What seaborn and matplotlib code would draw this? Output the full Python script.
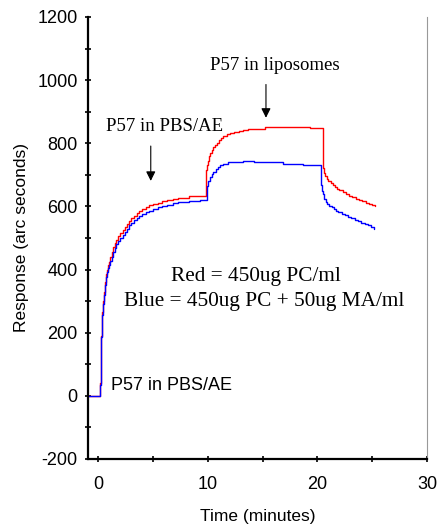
import numpy as np
import matplotlib
matplotlib.use("Agg")
import matplotlib.pyplot as plt
import seaborn as sns
from matplotlib.ticker import MultipleLocator

# time (minutes) / response (arc seconds)
red_t = [-0.95, 0.1, 0.2, 0.3, 0.4, 0.5, 0.6, 0.7, 0.8, 0.9, 1.0, 1.1, 1.2,
         1.35, 1.5, 1.65, 1.8, 2.0, 2.2, 2.4, 2.6, 2.8, 3.0, 3.25, 3.5, 3.75,
         4.0, 4.3, 4.6, 5.0, 5.4, 5.8, 6.3, 6.8, 7.3, 8.3, 9.8, 9.9, 10.0,
         10.1, 10.2, 10.35, 10.5, 10.65, 10.8, 11.0, 11.2, 11.4, 11.7, 12.0,
         12.4, 12.8, 13.2, 13.7, 14.1, 15.2, 19.3, 20.5, 20.6, 20.7, 20.85,
         21.0, 21.2, 21.4, 21.6, 21.8, 22.0, 22.3, 22.6, 22.9, 23.2, 23.5,
         23.8, 24.1, 24.4, 24.7, 25.0, 25.3]
red_y = [0, 40, 190, 265, 300, 330, 360, 385, 400, 415, 425, 440, 455,
         470, 485, 495, 505, 515, 525, 535, 545, 555, 562, 570, 578, 585,
         592, 598, 603, 608, 612, 616, 620, 624, 628, 634, 715, 730, 745,
         760, 770, 780, 788, 795, 802, 810, 816, 822, 828, 832,
         836, 839, 841, 844, 846, 853, 849, 722, 705, 695, 686,
         680, 673, 667, 661, 656, 651, 645, 639, 634, 629, 624,
         620, 616, 612, 608, 604, 600]

blue_t = [-0.95, 0.1, 0.2, 0.3, 0.4, 0.5, 0.6, 0.7, 0.8, 0.9, 1.0, 1.1, 1.2,
          1.35, 1.5, 1.65, 1.8, 2.0, 2.2, 2.4, 2.6, 2.8, 3.0, 3.25, 3.5, 3.75,
          4.0, 4.3, 4.6, 5.0, 5.4, 5.8, 6.3, 6.8, 7.3, 8.3, 9.3, 9.95, 10.05,
          10.2, 10.35, 10.5, 10.7, 10.9, 11.1, 11.4, 11.8, 12.5, 13.2, 14.2,
          16.9, 18.7, 20.3, 20.4, 20.5, 20.6, 20.75, 20.9, 21.1, 21.3, 21.5,
          21.7, 21.9, 22.2, 22.5, 22.8, 23.1, 23.4, 23.7, 24.0, 24.3, 24.6,
          24.9, 25.2]
blue_y = [0, 35, 185, 255, 290, 320, 350, 375, 392, 405, 415, 428, 440,
          455, 468, 480, 490, 500, 510, 520, 530, 540, 548, 556, 563, 570,
          576, 582, 587, 592, 597, 601, 606, 610, 613, 617, 620, 665, 680,
          692, 702, 710, 718, 725, 730, 735, 740, 742, 745, 740,
          735, 730, 668, 650, 638, 625, 615, 608, 602, 597, 592,
          587, 582, 577, 572, 567, 562, 557, 553, 549, 545, 540,
          534, 528]

sns.set_style("white")
plt.rcParams['font.family'] = ['Liberation Sans', 'DejaVu Sans']
plt.rcParams['axes.unicode_minus'] = False
plt.rcParams['text.color'] = 'black'
plt.rcParams['axes.labelcolor'] = 'black'
plt.rcParams['xtick.color'] = 'black'
plt.rcParams['ytick.color'] = 'black'

fig = plt.figure(figsize=(4.37, 5.26), dpi=100)
ax = fig.add_axes([0.2014, 0.1274, 0.7756, 0.8403])

sns.lineplot(x=red_t, y=red_y, ax=ax, color='#ff0000', lw=1.0,
             drawstyle='steps-post', estimator=None, sort=False)
sns.lineplot(x=blue_t, y=blue_y, ax=ax, color='#0000ff', lw=1.0,
             drawstyle='steps-post', estimator=None, sort=False)

ax.set_xlim(-0.95, 30)
ax.set_ylim(-200, 1200)
ax.xaxis.set_major_locator(MultipleLocator(10))
ax.xaxis.set_minor_locator(MultipleLocator(5))
ax.yaxis.set_major_locator(MultipleLocator(200))
ax.yaxis.set_minor_locator(MultipleLocator(100))
ax.tick_params(which='both', direction='inout', length=5, width=1.2,
               color='black', bottom=True, left=True)
ax.tick_params(axis='x', which='major', pad=10, labelsize=13)
ax.tick_params(axis='y', which='major', pad=5, labelsize=13)

for side in ['left', 'bottom']:
    ax.spines[side].set_linewidth(1.6)
    ax.spines[side].set_color('black')
ax.spines['top'].set_visible(False)
ax.spines['right'].set_color('#999999')
ax.spines['right'].set_linewidth(0.8)

ax.set_xlabel('Time (minutes)', fontsize=12.5, labelpad=11)
ax.set_ylabel('Response (arc seconds)', fontsize=12.5, labelpad=6)

serif = ['Liberation Serif', 'DejaVu Serif']
ax.text(16.1, 1046, 'P57 in liposomes', family=serif, fontsize=13.5,
        ha='center', va='center')
ax.annotate('', xy=(15.3, 872), xytext=(15.3, 995),
            arrowprops=dict(arrowstyle='-|>', color='black', lw=0.8,
                            mutation_scale=14))
ax.text(0.7, 853, 'P57 in PBS/AE', family=serif, fontsize=13.5,
        ha='left', va='center')
ax.annotate('', xy=(4.78, 672), xytext=(4.78, 800),
            arrowprops=dict(arrowstyle='-|>', color='black', lw=0.8,
                            mutation_scale=14))
ax.text(14.4, 378, 'Red = 450ug PC/ml', family=serif, fontsize=15.3,
        ha='center', va='center')
ax.text(15.1, 299, 'Blue = 450ug PC + 50ug MA/ml', family=serif, fontsize=15.3,
        ha='center', va='center')
ax.text(1.16, 33, 'P57 in PBS/AE', fontsize=13, ha='left', va='center')

fig.savefig('out.png', dpi=100)
